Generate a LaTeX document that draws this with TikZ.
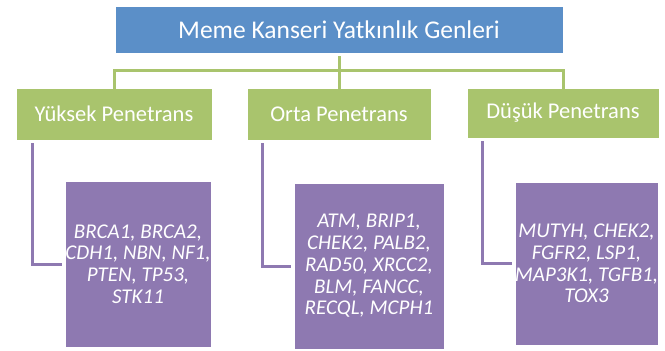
\documentclass[tikz,border=0pt]{standalone}
\usepackage{fontspec}
\setmainfont{Carlito}

\definecolor{baslikmavi}{HTML}{5B8FC8}
\definecolor{yesil}{HTML}{A9C46D}
\definecolor{mor}{HTML}{8E79B1}

\begin{document}
\begin{tikzpicture}[x=1pt,y=-1pt,
    baslik/.style={rectangle,fill=baslikmavi,draw=white,thin,text=white,inner sep=0pt,
      minimum height=47pt,font=\fontsize{25.5}{30}\selectfont},
    grup/.style={rectangle,fill=yesil,draw=white,thin,text=white,inner sep=0pt,
      font=\fontsize{22.5}{27}\selectfont},
    genler/.style={rectangle,fill=mor,draw=white,thin,text=white,inner sep=0pt,
      align=center,font=\fontsize{21}{21.7}\selectfont\itshape},
    yesilcizgi/.style={draw=yesil,line width=3pt},
    morcizgi/.style={draw=mor,line width=3pt}]

      \useasboundingbox (0,0) rectangle (665,351);

      \node[baslik,minimum width=448pt] (b) at (339,29.5){Meme Kanseri Yatkınlık Genleri};

      \node[grup,minimum width=196pt,minimum height=52pt] (y) at (114,114){Yüksek Penetrans};
      \node[grup,minimum width=184pt,minimum height=52pt] (o) at (339,114){Orta Penetrans};
      \node[grup,minimum width=192pt,minimum height=50pt] (d) at (563,113){Düşük Penetrans};

      \node[genler,minimum width=146pt,minimum height=166pt] (yg) at (138,264)
        {BRCA1, BRCA2,\\CDH1, NBN, NF1,\\PTEN, TP53,\\STK11};
      \node[genler,minimum width=150pt,minimum height=166pt] (og) at (369,266)
        {ATM, BRIP1,\\CHEK2, PALB2,\\RAD50, XRCC2,\\BLM, FANCC,\\RECQL, MCPH1};
      \node[genler,minimum width=141pt,minimum height=163pt] (dg) at (586.5,263.5)
        {MUTYH, CHEK2,\\FGFR2, LSP1,\\MAP3K1, TGFB1,\\TOX3};

      % baslik -> gruplar
      \draw[yesilcizgi] (b.south) ++(0,3) -- ++(0,14) -| ([yshift=-3pt]y.north);
      \draw[yesilcizgi] (b.south) ++(0,3) -- ++(0,14) -| ([yshift=-3pt]d.north);
      \draw[yesilcizgi] (b.south) ++(0,3) -- ([yshift=-3pt]o.north);

      % gruplar -> genler
      \draw[morcizgi,shorten >=3pt] (y.south west) ++(17,3) |- (yg.west);
      \draw[morcizgi,shorten >=3pt] (o.south west) ++(16,3) |- (og.west);
      \draw[morcizgi,shorten >=3pt] (d.south west) ++(16,3) |- (dg.west);
    \end{tikzpicture}
\end{document}
